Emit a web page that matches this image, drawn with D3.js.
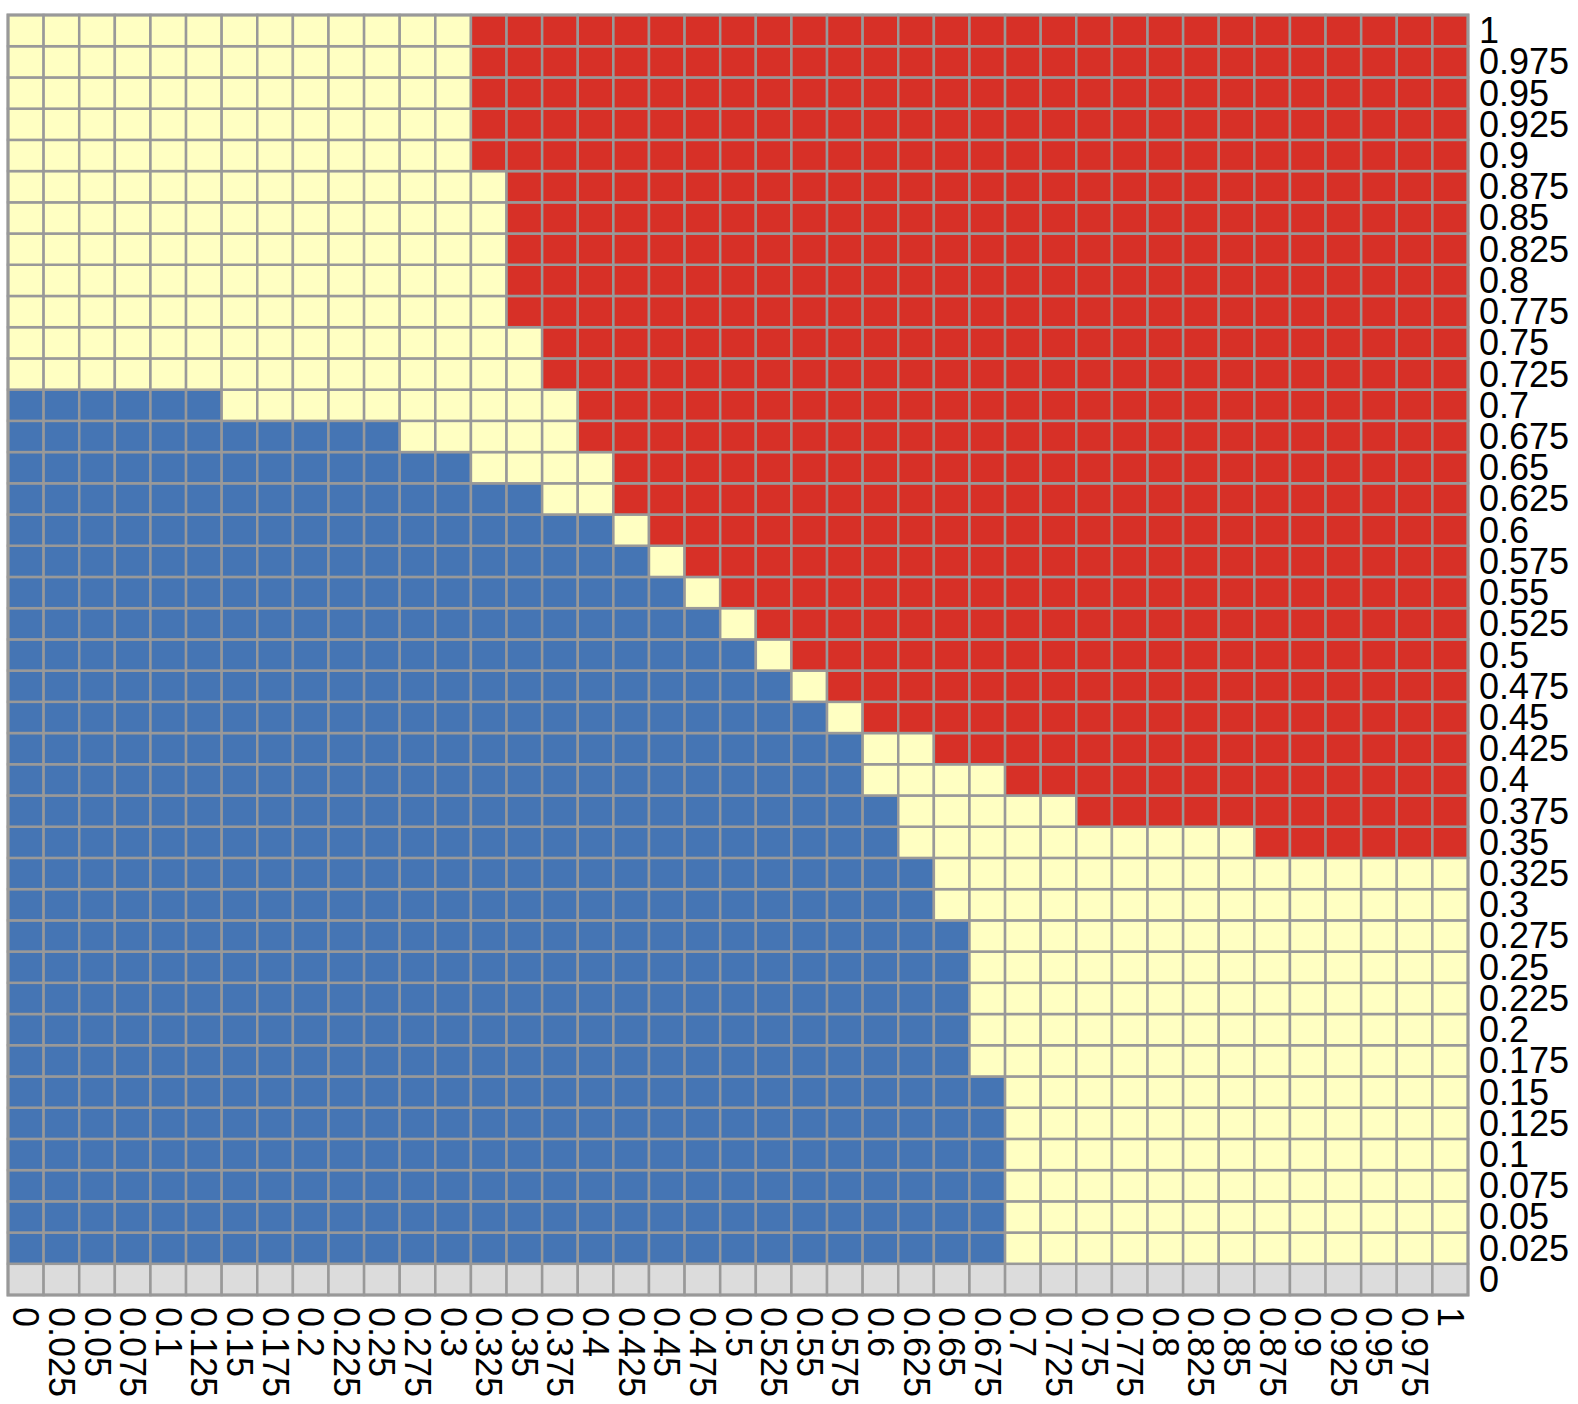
<!DOCTYPE html>
<html>
<head>
<meta charset="utf-8">
<script src="https://cdn.jsdelivr.net/npm/d3@7"></script>
<style>
  body { margin: 0; background: #fff; }
  text { font-family: "Liberation Sans", Arial, sans-serif; }
</style>
</head>
<body>
<div id="chart"></div>
<script>
// Tick labels (x and y share the same 0..1 steps)
const xLabels = ["0","0.025","0.05","0.075","0.1","0.125","0.15","0.175","0.2","0.225","0.25","0.275","0.3","0.325","0.35","0.375","0.4","0.425","0.45","0.475","0.5","0.525","0.55","0.575","0.6","0.625","0.65","0.675","0.7","0.725","0.75","0.775","0.8","0.825","0.85","0.875","0.9","0.925","0.95","0.975","1"];
const yLabels = xLabels.slice();

// Per column: highest y that is blue (null = none)
const blueTop = [0.7,0.7,0.7,0.7,0.7,0.7,0.675,0.675,0.675,0.675,0.675,0.65,0.65,0.625,0.625,0.6,0.6,0.575,0.55,0.525,0.5,0.475,0.45,0.425,0.375,0.325,0.275,0.15,null,null,null,null,null,null,null,null,null,null,null,null,null];
// Per column: lowest y that is red (null = none)
const redBottom = [null,null,null,null,null,null,null,null,null,null,null,null,null,0.9,0.775,0.725,0.675,0.625,0.6,0.575,0.55,0.525,0.5,0.475,0.45,0.45,0.425,0.425,0.4,0.4,0.375,0.375,0.375,0.375,0.375,0.35,0.35,0.35,0.35,0.35,0.35];

const classColors = { na: "#dcdcdc", low: "#4575b4", mid: "#ffffc2", high: "#d73027" };

const W = 1578, H = 1404;
const plot = { left: 8, top: 15, right: 1468, bottom: 1295 };

const svg = d3.select("#chart").append("svg")
    .attr("width", W)
    .attr("height", H);

const x = d3.scaleBand().domain(xLabels).range([plot.left, plot.right]).padding(0);
const y = d3.scaleBand().domain(yLabels.slice().reverse()).range([plot.top, plot.bottom]).padding(0);

const cells = [];
xLabels.forEach((xl, i) => {
    yLabels.forEach(yl => {
        const v = +yl;
        let c;
        if (v === 0) c = "na";
        else if (blueTop[i] !== null && v <= blueTop[i] + 1e-9) c = "low";
        else if (redBottom[i] !== null && v >= redBottom[i] - 1e-9) c = "high";
        else c = "mid";
        cells.push({ x: xl, y: yl, c });
    });
});

svg.append("g").selectAll("rect")
    .data(cells)
    .enter()
    .append("rect")
    .attr("x", d => x(d.x))
    .attr("y", d => y(d.y))
    .attr("width", x.bandwidth())
    .attr("height", y.bandwidth())
    .attr("fill", d => classColors[d.c])
    .attr("stroke", "#999999")
    .attr("stroke-width", 2.5);

svg.append("rect")
    .attr("x", plot.left)
    .attr("y", plot.top)
    .attr("width", plot.right - plot.left)
    .attr("height", plot.bottom - plot.top)
    .attr("fill", "none")
    .attr("stroke", "#999999")
    .attr("stroke-width", 3);

// Right labels
svg.append("g").selectAll("text")
    .data(yLabels)
    .enter()
    .append("text")
    .attr("x", plot.right + 11)
    .attr("y", d => y(d) + y.bandwidth() / 2)
    .attr("dominant-baseline", "central")
    .style("font-size", "36px")
    .attr("fill", "#000")
    .text(d => d);

// Bottom labels, rotated
svg.append("g").selectAll("text")
    .data(xLabels)
    .enter()
    .append("text")
    .attr("transform", d => `translate(${x(d) + x.bandwidth() / 2},${plot.bottom + 12}) rotate(90)`)
    .attr("dominant-baseline", "central")
    .style("font-size", "36px")
    .attr("fill", "#000")
    .text(d => d);
</script>
</body>
</html>
